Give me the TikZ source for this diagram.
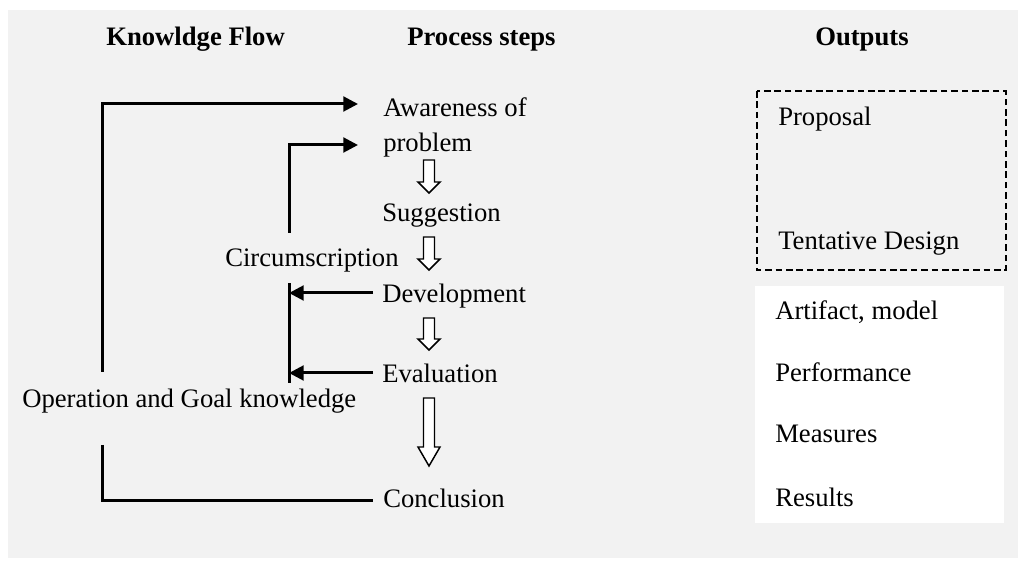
\documentclass[tikz,border=0pt]{standalone}
\usepackage{fontspec}
\setmainfont{Liberation Serif}
\usetikzlibrary{arrows.meta}
\definecolor{bggray}{HTML}{F2F2F2}
% hollow block arrow pointing down: x, top y, y where the head starts, tip y
\newcommand\hollowdown[4]{%
  \draw[hollow] ({#1-5.5},#2) -- ({#1+5.5},#2) -- ({#1+5.5},#3) -- ({#1+11},#3)
    -- (#1,#4) -- ({#1-11},#3) -- ({#1-5.5},#3) -- cycle;}
\begin{document}
\begin{tikzpicture}[x=0.75pt,y=-0.75pt,
  txt/.style={anchor=base west, inner sep=0pt, font=\fontsize{20}{24}\selectfont},
  hdr/.style={txt, font=\fontsize{20}{24}\selectfont\bfseries},
  flow/.style={line width=2.25pt, line join=miter},
  flowarr/.style={flow, -{Triangle[length=11pt,width=11pt]}},
  hollow/.style={line width=1.1pt, fill=white, line join=miter},
  outbox/.style={line width=1.4pt, dash pattern=on 5pt off 2.8pt},
]
% canvas and grey panel
\fill[white] (0,0) rectangle (1018,566);
\fill[bggray] (8,10) rectangle (1018,558);

% column headings
\node[hdr] (hkf)  at (106,46) {Knowldge Flow};
\node[hdr] (hps)  at (407,46) {Process steps};
\node[hdr] (hout) at (815,46) {Outputs};

% process steps
\node[txt] (aw1)  at (383,117) {Awareness of};
\node[txt] (aw2)  at (383,152) {problem};
\node[txt] (sug)  at (382,222) {Suggestion};
\node[txt] (circ) at (225,267) {Circumscription};
\node[txt] (dev)  at (382,303) {Development};
\node[txt] (eval) at (382,383) {Evaluation};
\node[txt] (opg)  at (22,408)  {Operation and Goal knowledge};
\node[txt] (conc) at (383,508) {Conclusion};

% outputs
\draw[outbox] (757,91) rectangle (1006,270);
\fill[white] (755,286) rectangle (1004,523);
\node[txt] (prop) at (778,126) {Proposal};
\node[txt] (tent) at (778,250) {Tentative Design};
\node[txt] (art)  at (775,320) {Artifact, model};
\node[txt] (perf) at (775,382) {Performance};
\node[txt] (meas) at (775,443) {Measures};
\node[txt] (res)  at (775,507) {Results};

% step-to-step block arrows
\hollowdown{429}{160}{182}{193}
\hollowdown{429}{237}{259}{270}
\hollowdown{429}{318}{339}{350}
\hollowdown{429}{398}{447}{466}

% knowledge flow connectors
\coordinate (opgUp)   at (102,372);
\coordinate (opgDown) at (102,445);
\coordinate (awIn1)   at (358,104);
\coordinate (awIn2)   at (358,145);
\coordinate (circUp)  at (289,233);
\coordinate (brTop)   at (289,283);
\coordinate (brBot)   at (289,383);
\coordinate (devOut)  at (373,293);
\coordinate (evalOut) at (373,373);
\coordinate (concIn)  at (373,501);

\draw[flowarr] (opgUp) |- (awIn1);
\draw[flowarr] (circUp) |- (awIn2);
\draw[flow] (brTop) -- (brBot);
\draw[flowarr] (devOut) -- (brTop |- devOut);
\draw[flowarr] (evalOut) -- (brTop |- evalOut);
\draw[flow] (opgDown) |- (concIn);
\end{tikzpicture}
\end{document}
